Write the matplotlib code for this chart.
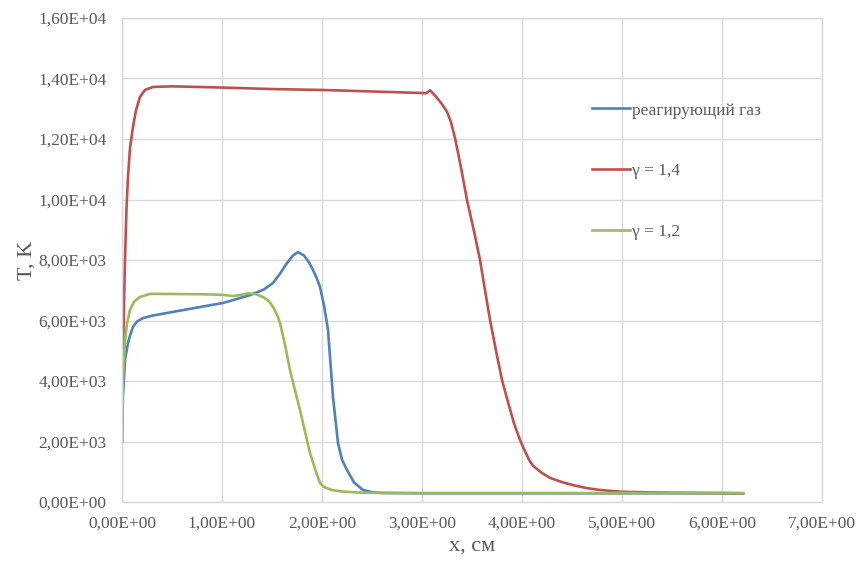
import matplotlib
matplotlib.use("Agg")
import matplotlib.pyplot as plt
from matplotlib.ticker import FuncFormatter

plt.rcParams['font.family'] = ['Liberation Serif', 'DejaVu Serif']

# реагирующий газ
x_react = [0.0, 0.01, 0.03, 0.06, 0.08, 0.11, 0.15, 0.21, 0.3, 0.45, 0.7, 1.01, 1.28,
           1.42, 1.51, 1.58, 1.65, 1.71, 1.76, 1.82, 1.87, 1.91, 1.95, 1.98, 2.02,
           2.06, 2.11, 2.16, 2.2, 2.25, 2.32, 2.41, 2.5, 2.6, 3.0, 4.0, 5.0, 6.21]
t_react = [2000, 3500, 4690, 5250, 5500, 5790, 5970, 6080, 6160, 6250, 6400, 6580, 6840,
           7030, 7240, 7550, 7900, 8150, 8260, 8150, 7920, 7670, 7380, 7110, 6500,
           5690, 3470, 1950, 1400, 1060, 650, 400, 330, 300, 290, 290, 290, 290]

# γ = 1,4
x_g14 = [0.0, 0.01, 0.02, 0.03, 0.045, 0.06, 0.08, 0.11, 0.14, 0.18, 0.23, 0.31, 0.5,
         1.0, 1.5, 2.0, 2.5, 3.0, 3.04, 3.08, 3.14, 3.2, 3.25, 3.29, 3.33, 3.39, 3.45,
         3.52, 3.58, 3.63, 3.68, 3.74, 3.8, 3.86, 3.92, 3.98, 4.02, 4.07, 4.11, 4.2,
         4.28, 4.4, 4.51, 4.65, 4.78, 5.0, 5.5, 6.0, 6.21]
t_g14 = [2000, 4500, 6500, 8000, 9700, 10740, 11700, 12400, 12950, 13390, 13620, 13720,
         13740, 13700, 13650, 13620, 13570, 13520, 13510, 13610, 13400, 13150, 12900,
         12550, 12030, 11050, 9980, 8950, 8000, 7000, 6020, 5000, 4030, 3300, 2600,
         2050, 1750, 1400, 1200, 960, 800, 660, 560, 460, 400, 340, 310, 300, 290]

# γ = 1,2
x_g12 = [0.0, 0.01, 0.03, 0.05, 0.08, 0.12, 0.18, 0.28, 0.4, 0.8, 1.0, 1.11, 1.18,
         1.26, 1.34, 1.41, 1.47, 1.51, 1.55, 1.58, 1.63, 1.68, 1.78, 1.88, 1.94, 1.98,
         2.02, 2.05, 2.1, 2.2, 2.4, 3.0, 4.0, 5.0, 6.21]
t_g12 = [2000, 4130, 5300, 5900, 6350, 6620, 6780, 6880, 6880, 6870, 6850, 6810, 6840,
         6900, 6870, 6780, 6640, 6450, 6200, 5920, 5200, 4360, 3040, 1620, 1000, 630,
         500, 460, 400, 350, 310, 300, 300, 300, 300]

series = [
    ("реагирующий газ", x_react, t_react, "#4f81bd"),
    ("γ = 1,4", x_g14, t_g14, "#c0504d"),
    ("γ = 1,2", x_g12, t_g12, "#9bbb59"),
]

fig = plt.figure(figsize=(8.59, 5.61), dpi=100)
ax = fig.add_axes([0.142, 0.105, 0.815, 0.863])

for label, xs, ts, color in series:
    ax.plot(xs, ts, color=color, lw=1.9, label=label, solid_joinstyle="round")

ax.set_xlim(0, 7)
ax.set_ylim(0, 16000)
ax.set_xticks([i * 1.0 for i in range(8)])
ax.set_yticks([i * 2000 for i in range(9)])


def sci_comma(v, pos):
    s = f"{v:.2E}"
    return s.replace(".", ",")


ax.xaxis.set_major_formatter(FuncFormatter(sci_comma))
ax.yaxis.set_major_formatter(FuncFormatter(sci_comma))
ax.tick_params(axis="x", length=0, labelsize=12.5, colors="#595959", pad=10)
ax.tick_params(axis="y", length=0, labelsize=12.5, colors="#595959", pad=11)

ax.grid(True, color="#d9d9d9", lw=1)
ax.set_axisbelow(True)
for sp in ax.spines.values():
    sp.set_color("#d9d9d9")
    sp.set_linewidth(1)

ax.set_xlabel("x, см", fontsize=16, color="#595959", labelpad=3)
ax.set_ylabel("T, K", fontsize=16, color="#595959", labelpad=1)

leg = ax.legend(loc="upper left", bbox_to_anchor=(0.661, 0.84), frameon=False,
                fontsize=12.5, handlelength=2.2, handletextpad=0.1,
                labelspacing=2.58, borderaxespad=0)
for txt in leg.get_texts():
    txt.set_color("#595959")

fig.savefig("out.png", dpi=100)
